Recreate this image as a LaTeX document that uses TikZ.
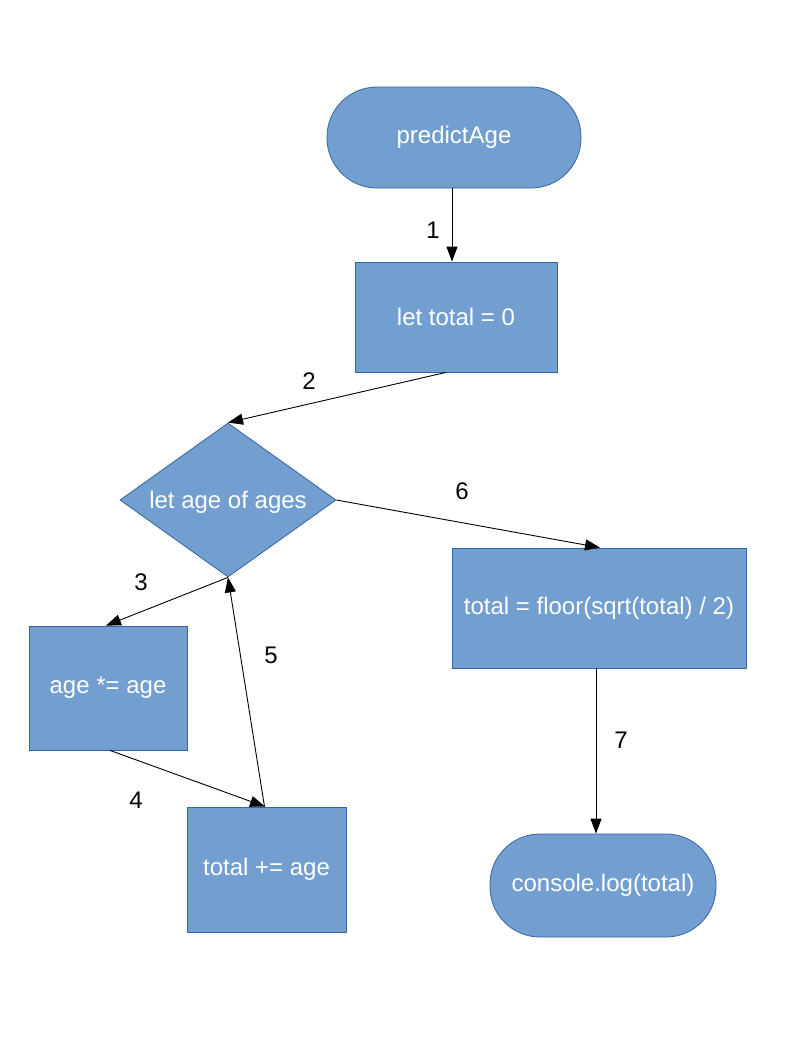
\documentclass[tikz,border=0pt]{standalone}
\usepackage{fontspec}
\setmainfont{Liberation Sans}
\usetikzlibrary{shapes.geometric,arrows.meta}
\definecolor{boxfill}{HTML}{729FCF}
\definecolor{boxline}{HTML}{3465A4}
\tikzset{
  x=1bp, y=-1bp,
  every node/.style={font=\fontsize{24bp}{28bp}\selectfont},
  procbox/.style={draw=boxline, fill=boxfill, line width=0.8bp, text=white, inner sep=0pt},
  termbox/.style={procbox, rounded corners=50bp},
  decbox/.style={procbox, shape=diamond, text height=0pt, text depth=0pt},
  flow/.style={draw=black, line width=0.9bp, -{Triangle[length=15bp,width=11bp]}},
  edgelabel/.style={text=black, inner sep=0pt}
}
\begin{document}
\begin{tikzpicture}
\useasboundingbox[fill=white] (0,0) rectangle (794,1058);
% nodes
\node[termbox, minimum width=254bp, minimum height=101bp] (start) at (454,137.5) {predictAge};
\node[procbox, minimum width=202bp, minimum height=110bp] (init) at (456,317) {let total = 0};
\node[decbox, minimum width=216bp, minimum height=154bp] (loop) at (228,500) {\makebox[0pt]{\raisebox{-0.36em}[0pt][0pt]{let age of ages}}};
\node[procbox, minimum width=158bp, minimum height=124bp] (sq) at (108,688) {age *= age};
\node[procbox, minimum width=159bp, minimum height=125bp] (acc) at (266.5,869.5) {total += age};
\node[procbox, minimum width=294bp, minimum height=120bp] (res) at (599,608) {total = floor(sqrt(total) / 2)};
\node[termbox, minimum width=226bp, minimum height=103bp] (out) at (603,885.5) {console.log(total)};
% connectors
\draw[flow] ([xshift=-2bp]start.south) -- ([xshift=-2bp]start.south |- init.north);
\draw[flow] ([xshift=-10bp]init.south) -- (loop.north);
\draw[flow] (loop.south) -- ([xshift=-2bp]sq.north);
\draw[flow] ([xshift=2bp]sq.south) -- ([xshift=-1.5bp]acc.north);
\draw[flow] ([xshift=-2bp]acc.north) -- (loop.south);
\draw[flow] (loop.east) -- ([xshift=1bp]res.north);
\draw[flow] ([xshift=-3bp]res.south) -- ([xshift=-3bp]res.south |- out.north);
% labels
\node[edgelabel] (l1) at (433,230) {1};
\node[edgelabel] (l2) at (309,381) {2};
\node[edgelabel] (l3) at (141,582) {3};
\node[edgelabel] (l4) at (136,800) {4};
\node[edgelabel] (l5) at (271,655) {5};
\node[edgelabel] (l6) at (462,491) {6};
\node[edgelabel] (l7) at (621,740) {7};
\end{tikzpicture}
\end{document}
